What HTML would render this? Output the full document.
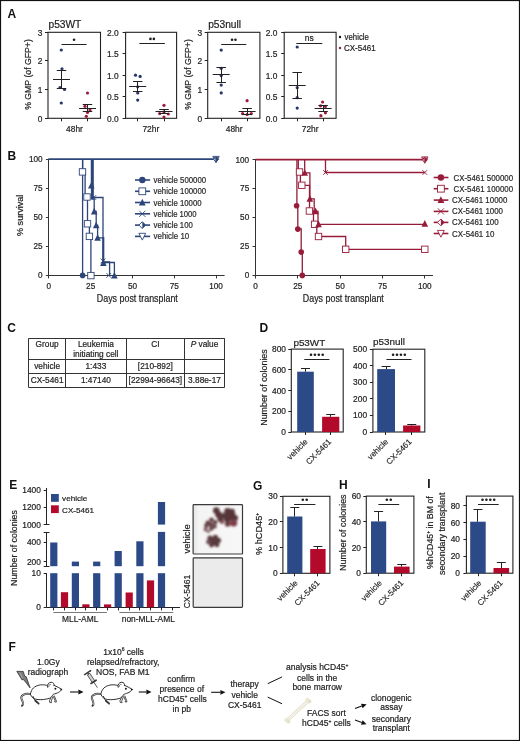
<!DOCTYPE html>
<html><head><meta charset="utf-8"><style>
html,body{margin:0;padding:0;background:#fff;}
svg{display:block;filter:blur(0.3px);font-family:"Liberation Sans", sans-serif;}
</style></head><body>
<svg width="520" height="741" viewBox="0 0 520 741">
<rect x="0" y="0" width="520" height="741" fill="#fff"/>
<text x="7.6" y="18.2" font-size="12.0" font-weight="bold" fill="#111">A</text>
<text x="7.5" y="160.0" font-size="12.0" font-weight="bold" fill="#111">B</text>
<text x="7.2" y="332.3" font-size="12.0" font-weight="bold" fill="#111">C</text>
<text x="259.6" y="331.6" font-size="12.0" font-weight="bold" fill="#111">D</text>
<text x="9.2" y="489.0" font-size="12.0" font-weight="bold" fill="#111">E</text>
<text x="8.4" y="651.0" font-size="12.0" font-weight="bold" fill="#111">F</text>
<text x="253.0" y="490.0" font-size="12.0" font-weight="bold" fill="#111">G</text>
<text x="339.0" y="489.0" font-size="12.0" font-weight="bold" fill="#111">H</text>
<text x="427.2" y="488.3" font-size="12.0" font-weight="bold" fill="#111">I</text>
<rect x="48.0" y="32.3" width="52.5" height="86.0" fill="none" stroke="#222" stroke-width="1.1"/>
<line x1="45.0" y1="118.5" x2="48.0" y2="118.5" stroke="#222" stroke-width="1.0"/>
<text x="42.5" y="121.6" font-size="8.4" text-anchor="end" fill="#1e1e1e" stroke="#1e1e1e" stroke-width="0.2" >0</text>
<line x1="45.0" y1="89.5" x2="48.0" y2="89.5" stroke="#222" stroke-width="1.0"/>
<text x="42.5" y="92.93333333333332" font-size="8.4" text-anchor="end" fill="#1e1e1e" stroke="#1e1e1e" stroke-width="0.2" >1</text>
<line x1="45.0" y1="60.5" x2="48.0" y2="60.5" stroke="#222" stroke-width="1.0"/>
<text x="42.5" y="64.26666666666667" font-size="8.4" text-anchor="end" fill="#1e1e1e" stroke="#1e1e1e" stroke-width="0.2" >2</text>
<line x1="45.0" y1="32.5" x2="48.0" y2="32.5" stroke="#222" stroke-width="1.0"/>
<text x="42.5" y="35.599999999999994" font-size="8.4" text-anchor="end" fill="#1e1e1e" stroke="#1e1e1e" stroke-width="0.2" >3</text>
<line x1="61.5" y1="118.3" x2="61.5" y2="121.3" stroke="#222" stroke-width="1.0"/>
<line x1="87.5" y1="118.3" x2="87.5" y2="121.3" stroke="#222" stroke-width="1.0"/>
<text x="74.5" y="131.8" font-size="8.4" text-anchor="middle" fill="#1e1e1e" stroke="#1e1e1e" stroke-width="0.2" >48hr</text>
<circle cx="61.3" cy="50.0" r="1.6" fill="#283668"/>
<circle cx="62.0" cy="68.8" r="1.6" fill="#283668"/>
<circle cx="60.0" cy="87.5" r="1.6" fill="#283668"/>
<circle cx="64.5" cy="89.5" r="1.6" fill="#283668"/>
<circle cx="61.3" cy="103.0" r="1.6" fill="#283668"/>
<circle cx="87.5" cy="93.0" r="1.6" fill="#9c1b3b"/>
<circle cx="85.0" cy="106.3" r="1.6" fill="#9c1b3b"/>
<circle cx="90.0" cy="110.0" r="1.6" fill="#9c1b3b"/>
<circle cx="87.5" cy="112.5" r="1.6" fill="#9c1b3b"/>
<circle cx="86.3" cy="116.3" r="1.6" fill="#9c1b3b"/>
<line x1="53.0" y1="79.5" x2="70.0" y2="79.5" stroke="#222" stroke-width="1.0"/>
<line x1="56.75" y1="70.5" x2="66.25" y2="70.5" stroke="#222" stroke-width="1.0"/>
<line x1="56.75" y1="88.5" x2="66.25" y2="88.5" stroke="#222" stroke-width="1.0"/>
<line x1="61.5" y1="70.4" x2="61.5" y2="88.5" stroke="#222" stroke-width="1.0"/>
<line x1="79.0" y1="108.5" x2="96.0" y2="108.5" stroke="#222" stroke-width="1.0"/>
<line x1="82.75" y1="104.5" x2="92.25" y2="104.5" stroke="#222" stroke-width="1.0"/>
<line x1="82.75" y1="111.5" x2="92.25" y2="111.5" stroke="#222" stroke-width="1.0"/>
<line x1="87.5" y1="104.6" x2="87.5" y2="111.9" stroke="#222" stroke-width="1.0"/>
<line x1="61.5" y1="44.5" x2="86.6" y2="44.5" stroke="#222" stroke-width="1.0"/>
<circle cx="74.05" cy="39.8" r="1.3" fill="#1e1e1e"/>
<text x="48.5" y="28.0" font-size="10.2" text-anchor="start" fill="#1e1e1e" stroke="#1e1e1e" stroke-width="0.2" >p53WT</text>
<text x="31.2" y="74.5" font-size="8.7" text-anchor="middle" fill="#1e1e1e" stroke="#1e1e1e" stroke-width="0.2" transform="rotate(-90 31.2 74.5)" >% GMP (of GFP+)</text>
<rect x="125.6" y="32.3" width="51.0" height="86.0" fill="none" stroke="#222" stroke-width="1.1"/>
<line x1="122.6" y1="118.5" x2="125.6" y2="118.5" stroke="#222" stroke-width="1.0"/>
<text x="118.69999999999999" y="121.6" font-size="8.4" text-anchor="end" fill="#1e1e1e" stroke="#1e1e1e" stroke-width="0.2" >0.0</text>
<line x1="122.6" y1="96.5" x2="125.6" y2="96.5" stroke="#222" stroke-width="1.0"/>
<text x="118.69999999999999" y="100.1" font-size="8.4" text-anchor="end" fill="#1e1e1e" stroke="#1e1e1e" stroke-width="0.2" >0.5</text>
<line x1="122.6" y1="75.5" x2="125.6" y2="75.5" stroke="#222" stroke-width="1.0"/>
<text x="118.69999999999999" y="78.6" font-size="8.4" text-anchor="end" fill="#1e1e1e" stroke="#1e1e1e" stroke-width="0.2" >1.0</text>
<line x1="122.6" y1="53.5" x2="125.6" y2="53.5" stroke="#222" stroke-width="1.0"/>
<text x="118.69999999999999" y="57.099999999999994" font-size="8.4" text-anchor="end" fill="#1e1e1e" stroke="#1e1e1e" stroke-width="0.2" >1.5</text>
<line x1="122.6" y1="32.5" x2="125.6" y2="32.5" stroke="#222" stroke-width="1.0"/>
<text x="118.69999999999999" y="35.599999999999994" font-size="8.4" text-anchor="end" fill="#1e1e1e" stroke="#1e1e1e" stroke-width="0.2" >2.0</text>
<line x1="137.5" y1="118.3" x2="137.5" y2="121.3" stroke="#222" stroke-width="1.0"/>
<line x1="164.5" y1="118.3" x2="164.5" y2="121.3" stroke="#222" stroke-width="1.0"/>
<text x="150.85" y="131.8" font-size="8.4" text-anchor="middle" fill="#1e1e1e" stroke="#1e1e1e" stroke-width="0.2" >72hr</text>
<circle cx="135.5" cy="75.2" r="1.6" fill="#283668"/>
<circle cx="140.1" cy="76.4" r="1.6" fill="#283668"/>
<circle cx="137.7" cy="86.8" r="1.6" fill="#283668"/>
<circle cx="137.7" cy="92.9" r="1.6" fill="#283668"/>
<circle cx="137.7" cy="100.1" r="1.6" fill="#283668"/>
<circle cx="164" cy="105.3" r="1.6" fill="#9c1b3b"/>
<circle cx="159.7" cy="113.6" r="1.6" fill="#9c1b3b"/>
<circle cx="164" cy="111.9" r="1.6" fill="#9c1b3b"/>
<circle cx="168.3" cy="114" r="1.6" fill="#9c1b3b"/>
<circle cx="164" cy="117" r="1.6" fill="#9c1b3b"/>
<line x1="129.2" y1="86.5" x2="146.2" y2="86.5" stroke="#222" stroke-width="1.0"/>
<line x1="132.95" y1="81.5" x2="142.45" y2="81.5" stroke="#222" stroke-width="1.0"/>
<line x1="132.95" y1="91.5" x2="142.45" y2="91.5" stroke="#222" stroke-width="1.0"/>
<line x1="137.5" y1="81.6" x2="137.5" y2="91.5" stroke="#222" stroke-width="1.0"/>
<line x1="155.5" y1="111.5" x2="172.5" y2="111.5" stroke="#222" stroke-width="1.0"/>
<line x1="159.25" y1="109.5" x2="168.75" y2="109.5" stroke="#222" stroke-width="1.0"/>
<line x1="159.25" y1="113.5" x2="168.75" y2="113.5" stroke="#222" stroke-width="1.0"/>
<line x1="164.5" y1="109.7" x2="164.5" y2="113.6" stroke="#222" stroke-width="1.0"/>
<line x1="139.4" y1="43.5" x2="164.9" y2="43.5" stroke="#222" stroke-width="1.0"/>
<circle cx="150.45000000000002" cy="38.9" r="1.3" fill="#1e1e1e"/>
<circle cx="153.85" cy="38.9" r="1.3" fill="#1e1e1e"/>
<rect x="207.7" y="32.3" width="52.19999999999999" height="86.0" fill="none" stroke="#222" stroke-width="1.1"/>
<line x1="204.7" y1="118.5" x2="207.7" y2="118.5" stroke="#222" stroke-width="1.0"/>
<text x="202.2" y="121.6" font-size="8.4" text-anchor="end" fill="#1e1e1e" stroke="#1e1e1e" stroke-width="0.2" >0</text>
<line x1="204.7" y1="89.5" x2="207.7" y2="89.5" stroke="#222" stroke-width="1.0"/>
<text x="202.2" y="92.93333333333332" font-size="8.4" text-anchor="end" fill="#1e1e1e" stroke="#1e1e1e" stroke-width="0.2" >1</text>
<line x1="204.7" y1="60.5" x2="207.7" y2="60.5" stroke="#222" stroke-width="1.0"/>
<text x="202.2" y="64.26666666666667" font-size="8.4" text-anchor="end" fill="#1e1e1e" stroke="#1e1e1e" stroke-width="0.2" >2</text>
<line x1="204.7" y1="32.5" x2="207.7" y2="32.5" stroke="#222" stroke-width="1.0"/>
<text x="202.2" y="35.599999999999994" font-size="8.4" text-anchor="end" fill="#1e1e1e" stroke="#1e1e1e" stroke-width="0.2" >3</text>
<line x1="221.5" y1="118.3" x2="221.5" y2="121.3" stroke="#222" stroke-width="1.0"/>
<line x1="247.5" y1="118.3" x2="247.5" y2="121.3" stroke="#222" stroke-width="1.0"/>
<text x="234.14999999999998" y="131.8" font-size="8.4" text-anchor="middle" fill="#1e1e1e" stroke="#1e1e1e" stroke-width="0.2" >48hr</text>
<circle cx="221.2" cy="50.1" r="1.6" fill="#283668"/>
<circle cx="221.2" cy="68.3" r="1.6" fill="#283668"/>
<circle cx="221.2" cy="75.6" r="1.6" fill="#283668"/>
<circle cx="221.2" cy="85.1" r="1.6" fill="#283668"/>
<circle cx="221.2" cy="92.9" r="1.6" fill="#283668"/>
<circle cx="247.1" cy="100.7" r="1.6" fill="#9c1b3b"/>
<circle cx="242.6" cy="113.6" r="1.6" fill="#9c1b3b"/>
<circle cx="247.1" cy="114.5" r="1.6" fill="#9c1b3b"/>
<circle cx="251.3" cy="113.6" r="1.6" fill="#9c1b3b"/>
<line x1="212.7" y1="74.5" x2="229.7" y2="74.5" stroke="#222" stroke-width="1.0"/>
<line x1="216.45" y1="67.5" x2="225.95" y2="67.5" stroke="#222" stroke-width="1.0"/>
<line x1="216.45" y1="82.5" x2="225.95" y2="82.5" stroke="#222" stroke-width="1.0"/>
<line x1="221.5" y1="67.3" x2="221.5" y2="82.1" stroke="#222" stroke-width="1.0"/>
<line x1="238.6" y1="111.5" x2="255.6" y2="111.5" stroke="#222" stroke-width="1.0"/>
<line x1="242.35" y1="108.5" x2="251.85" y2="108.5" stroke="#222" stroke-width="1.0"/>
<line x1="242.35" y1="114.5" x2="251.85" y2="114.5" stroke="#222" stroke-width="1.0"/>
<line x1="247.5" y1="108.1" x2="247.5" y2="114.0" stroke="#222" stroke-width="1.0"/>
<line x1="221.2" y1="44.5" x2="246.3" y2="44.5" stroke="#222" stroke-width="1.0"/>
<circle cx="232.05" cy="39.8" r="1.3" fill="#1e1e1e"/>
<circle cx="235.45" cy="39.8" r="1.3" fill="#1e1e1e"/>
<text x="208.2" y="28.0" font-size="10.2" text-anchor="start" fill="#1e1e1e" stroke="#1e1e1e" stroke-width="0.2" >p53null</text>
<text x="191.0" y="74.5" font-size="8.7" text-anchor="middle" fill="#1e1e1e" stroke="#1e1e1e" stroke-width="0.2" transform="rotate(-90 191.0 74.5)" >% GMP (of GFP+)</text>
<rect x="284.2" y="32.3" width="51.900000000000034" height="86.0" fill="none" stroke="#222" stroke-width="1.1"/>
<line x1="281.2" y1="118.5" x2="284.2" y2="118.5" stroke="#222" stroke-width="1.0"/>
<text x="277.3" y="121.6" font-size="8.4" text-anchor="end" fill="#1e1e1e" stroke="#1e1e1e" stroke-width="0.2" >0.0</text>
<line x1="281.2" y1="96.5" x2="284.2" y2="96.5" stroke="#222" stroke-width="1.0"/>
<text x="277.3" y="100.1" font-size="8.4" text-anchor="end" fill="#1e1e1e" stroke="#1e1e1e" stroke-width="0.2" >0.5</text>
<line x1="281.2" y1="75.5" x2="284.2" y2="75.5" stroke="#222" stroke-width="1.0"/>
<text x="277.3" y="78.6" font-size="8.4" text-anchor="end" fill="#1e1e1e" stroke="#1e1e1e" stroke-width="0.2" >1.0</text>
<line x1="281.2" y1="53.5" x2="284.2" y2="53.5" stroke="#222" stroke-width="1.0"/>
<text x="277.3" y="57.099999999999994" font-size="8.4" text-anchor="end" fill="#1e1e1e" stroke="#1e1e1e" stroke-width="0.2" >1.5</text>
<line x1="281.2" y1="32.5" x2="284.2" y2="32.5" stroke="#222" stroke-width="1.0"/>
<text x="277.3" y="35.599999999999994" font-size="8.4" text-anchor="end" fill="#1e1e1e" stroke="#1e1e1e" stroke-width="0.2" >2.0</text>
<line x1="297.5" y1="118.3" x2="297.5" y2="121.3" stroke="#222" stroke-width="1.0"/>
<line x1="323.5" y1="118.3" x2="323.5" y2="121.3" stroke="#222" stroke-width="1.0"/>
<text x="310.15" y="131.8" font-size="8.4" text-anchor="middle" fill="#1e1e1e" stroke="#1e1e1e" stroke-width="0.2" >72hr</text>
<circle cx="297.2" cy="47.0" r="1.6" fill="#283668"/>
<circle cx="297.2" cy="87.7" r="1.6" fill="#283668"/>
<circle cx="297.2" cy="97.7" r="1.6" fill="#283668"/>
<circle cx="297.2" cy="108.1" r="1.6" fill="#283668"/>
<circle cx="322.6" cy="102" r="1.6" fill="#9c1b3b"/>
<circle cx="320.6" cy="105.8" r="1.6" fill="#9c1b3b"/>
<circle cx="325.4" cy="106.4" r="1.6" fill="#9c1b3b"/>
<circle cx="325.4" cy="112.8" r="1.6" fill="#9c1b3b"/>
<circle cx="320.9" cy="115.7" r="1.6" fill="#9c1b3b"/>
<line x1="288.7" y1="85.5" x2="305.7" y2="85.5" stroke="#222" stroke-width="1.0"/>
<line x1="292.45" y1="72.5" x2="301.95" y2="72.5" stroke="#222" stroke-width="1.0"/>
<line x1="292.45" y1="98.5" x2="301.95" y2="98.5" stroke="#222" stroke-width="1.0"/>
<line x1="297.5" y1="72.5" x2="297.5" y2="98.6" stroke="#222" stroke-width="1.0"/>
<line x1="314.6" y1="108.5" x2="331.6" y2="108.5" stroke="#222" stroke-width="1.0"/>
<line x1="318.35" y1="105.5" x2="327.85" y2="105.5" stroke="#222" stroke-width="1.0"/>
<line x1="318.35" y1="111.5" x2="327.85" y2="111.5" stroke="#222" stroke-width="1.0"/>
<line x1="323.5" y1="105.8" x2="323.5" y2="111.4" stroke="#222" stroke-width="1.0"/>
<line x1="296.3" y1="43.5" x2="322.3" y2="43.5" stroke="#222" stroke-width="1.0"/>
<text x="309.3" y="40.8" font-size="8.4" text-anchor="middle" fill="#1e1e1e" stroke="#1e1e1e" stroke-width="0.2" >ns</text>
<circle cx="340.0" cy="37.0" r="1.2" fill="#111"/>
<text x="344.6" y="40.2" font-size="8.3" text-anchor="start" fill="#1e1e1e" stroke="#1e1e1e" stroke-width="0.2" textLength="24.3" lengthAdjust="spacingAndGlyphs">vehicle</text>
<circle cx="340.0" cy="48.0" r="1.2" fill="#9c1b3b"/>
<text x="344.0" y="51.2" font-size="8.3" text-anchor="start" fill="#1e1e1e" stroke="#1e1e1e" stroke-width="0.2" textLength="31.6" lengthAdjust="spacingAndGlyphs">CX-5461</text>
<line x1="48.5" y1="158.6" x2="48.5" y2="275.4" stroke="#333" stroke-width="1.0"/>
<line x1="48.9" y1="275.5" x2="224.6" y2="275.5" stroke="#333" stroke-width="1.0"/>
<line x1="45.9" y1="275.5" x2="48.9" y2="275.5" stroke="#333" stroke-width="1.0"/>
<text x="42.6" y="278.29999999999995" font-size="8.2" text-anchor="end" fill="#1e1e1e" stroke="#1e1e1e" stroke-width="0.2" >0</text>
<line x1="48.5" y1="275.4" x2="48.5" y2="278.4" stroke="#333" stroke-width="1.0"/>
<text x="48.9" y="288.8" font-size="8.2" text-anchor="middle" fill="#1e1e1e" stroke="#1e1e1e" stroke-width="0.2" >0</text>
<line x1="45.9" y1="246.5" x2="48.9" y2="246.5" stroke="#333" stroke-width="1.0"/>
<text x="42.6" y="249.225" font-size="8.2" text-anchor="end" fill="#1e1e1e" stroke="#1e1e1e" stroke-width="0.2" >25</text>
<line x1="90.5" y1="275.4" x2="90.5" y2="278.4" stroke="#333" stroke-width="1.0"/>
<text x="90.675" y="288.8" font-size="8.2" text-anchor="middle" fill="#1e1e1e" stroke="#1e1e1e" stroke-width="0.2" >25</text>
<line x1="45.9" y1="217.5" x2="48.9" y2="217.5" stroke="#333" stroke-width="1.0"/>
<text x="42.6" y="220.15" font-size="8.2" text-anchor="end" fill="#1e1e1e" stroke="#1e1e1e" stroke-width="0.2" >50</text>
<line x1="132.5" y1="275.4" x2="132.5" y2="278.4" stroke="#333" stroke-width="1.0"/>
<text x="132.45" y="288.8" font-size="8.2" text-anchor="middle" fill="#1e1e1e" stroke="#1e1e1e" stroke-width="0.2" >50</text>
<line x1="45.9" y1="188.5" x2="48.9" y2="188.5" stroke="#333" stroke-width="1.0"/>
<text x="42.6" y="191.07500000000002" font-size="8.2" text-anchor="end" fill="#1e1e1e" stroke="#1e1e1e" stroke-width="0.2" >75</text>
<line x1="174.5" y1="275.4" x2="174.5" y2="278.4" stroke="#333" stroke-width="1.0"/>
<text x="174.225" y="288.8" font-size="8.2" text-anchor="middle" fill="#1e1e1e" stroke="#1e1e1e" stroke-width="0.2" >75</text>
<line x1="45.9" y1="159.5" x2="48.9" y2="159.5" stroke="#333" stroke-width="1.0"/>
<text x="42.6" y="162.0" font-size="8.2" text-anchor="end" fill="#1e1e1e" stroke="#1e1e1e" stroke-width="0.2" >100</text>
<line x1="216.5" y1="275.4" x2="216.5" y2="278.4" stroke="#333" stroke-width="1.0"/>
<text x="216.0" y="288.8" font-size="8.2" text-anchor="middle" fill="#1e1e1e" stroke="#1e1e1e" stroke-width="0.2" >100</text>
<text x="137.3" y="302.3" font-size="10.2" text-anchor="middle" fill="#1e1e1e" stroke="#1e1e1e" stroke-width="0.2" textLength="81" lengthAdjust="spacingAndGlyphs">Days post transplant</text>
<text x="23.3" y="215.3" font-size="8.9" text-anchor="middle" fill="#1e1e1e" stroke="#1e1e1e" stroke-width="0.2" transform="rotate(-90 23.3 215.3)" textLength="41.3" lengthAdjust="spacingAndGlyphs">% survival</text>
<path d="M48.9,159.1 H216.0" fill="none" stroke="#2d4679" stroke-width="1.7"/>
<path d="M82.6,159.1 V275.4" fill="none" stroke="#2d4679" stroke-width="1.3"/>
<path d="M82.6,159.1 V171.9 H85.1 V197 H87.5 V224 H89.4 V236.4 H90.9 V275.4" fill="none" stroke="#2d4679" stroke-width="1.3"/>
<path d="M91.5,159.1 V185.6 H92.5 V199 H94.2 V211.5 H96.2 V225.4 H97.6 V237.9 H103.4 V262.5 H114.4 V275.4" fill="none" stroke="#2d4679" stroke-width="1.3"/>
<path d="M93.0,159.1 V197.5 H103.0 V262 H109.6 V275.4" fill="none" stroke="#2d4679" stroke-width="1.3"/>
<path d="M92.2,159.1 V199" fill="none" stroke="#2d4679" stroke-width="2.6"/>
<path d="M103.4,237 V262.5" fill="none" stroke="#2d4679" stroke-width="1.8"/>
<circle cx="82.6" cy="275.4" r="2.8" fill="#2d4679"/>
<rect x="79.3" y="168.70000000000002" width="6.4" height="6.4" fill="white" stroke="#2d4679" stroke-width="0.9"/>
<rect x="83.8" y="193.8" width="6.4" height="6.4" fill="white" stroke="#2d4679" stroke-width="0.9"/>
<rect x="84.3" y="220.60000000000002" width="6.4" height="6.4" fill="white" stroke="#2d4679" stroke-width="0.9"/>
<rect x="86.2" y="233.20000000000002" width="6.4" height="6.4" fill="white" stroke="#2d4679" stroke-width="0.9"/>
<rect x="87.7" y="272.40000000000003" width="6.4" height="6.4" fill="white" stroke="#2d4679" stroke-width="0.9"/>
<path d="M91.3,181.89999999999998 L94.6,188.5 L88.0,188.5 Z" fill="#2d4679"/>
<path d="M94.2,207.79999999999998 L97.5,214.4 L90.9,214.4 Z" fill="#2d4679"/>
<path d="M96.2,221.7 L99.5,228.3 L92.9,228.3 Z" fill="#2d4679"/>
<path d="M97.6,234.2 L100.89999999999999,240.8 L94.3,240.8 Z" fill="#2d4679"/>
<path d="M103.4,259.3 L106.7,265.90000000000003 L100.10000000000001,265.90000000000003 Z" fill="#2d4679"/>
<path d="M114.4,271.90000000000003 L117.7,278.50000000000006 L111.10000000000001,278.50000000000006 Z" fill="#2d4679"/>
<path d="M91.41,195.16 L96.09,199.84 M91.41,199.84 L96.09,195.16" stroke="#2d4679" stroke-width="0.9"/>
<path d="M100.66,258.66 L105.34,263.34 M100.66,263.34 L105.34,258.66" stroke="#2d4679" stroke-width="0.9"/>
<path d="M106.41,273.06 L111.09,277.73999999999995 M106.41,277.73999999999995 L111.09,273.06" stroke="#2d4679" stroke-width="0.9"/>
<path d="M212.8,156.40000000000003 L219.2,156.40000000000003 L216.0,162.8 Z" fill="white" stroke="#2d4679" stroke-width="0.9"/>
<path d="M216.0,156.70000000000002 L218.6,159.3 L216.0,161.9 L213.4,159.3 Z" fill="white" stroke="#2d4679" stroke-width="0.9"/><path d="M216.0,156.70000000000002 L218.6,159.3 L216.0,161.9 Z" fill="#2d4679"/>
<path d="M213.4,157.0 L218.6,157.0 L216.0,162.4 Z" fill="#2d4679" fill-opacity="0.7"/>
<line x1="255.5" y1="159.1" x2="255.5" y2="275.5" stroke="#333" stroke-width="1.0"/>
<line x1="255.5" y1="275.5" x2="433.0" y2="275.5" stroke="#333" stroke-width="1.0"/>
<line x1="252.5" y1="275.5" x2="255.5" y2="275.5" stroke="#333" stroke-width="1.0"/>
<text x="249.2" y="278.4" font-size="8.2" text-anchor="end" fill="#1e1e1e" stroke="#1e1e1e" stroke-width="0.2" >0</text>
<line x1="255.5" y1="275.5" x2="255.5" y2="278.5" stroke="#333" stroke-width="1.0"/>
<text x="255.5" y="288.8" font-size="8.2" text-anchor="middle" fill="#1e1e1e" stroke="#1e1e1e" stroke-width="0.2" >0</text>
<line x1="252.5" y1="246.5" x2="255.5" y2="246.5" stroke="#333" stroke-width="1.0"/>
<text x="249.2" y="249.425" font-size="8.2" text-anchor="end" fill="#1e1e1e" stroke="#1e1e1e" stroke-width="0.2" >25</text>
<line x1="297.5" y1="275.5" x2="297.5" y2="278.5" stroke="#333" stroke-width="1.0"/>
<text x="297.825" y="288.8" font-size="8.2" text-anchor="middle" fill="#1e1e1e" stroke="#1e1e1e" stroke-width="0.2" >25</text>
<line x1="252.5" y1="217.5" x2="255.5" y2="217.5" stroke="#333" stroke-width="1.0"/>
<text x="249.2" y="220.45000000000002" font-size="8.2" text-anchor="end" fill="#1e1e1e" stroke="#1e1e1e" stroke-width="0.2" >50</text>
<line x1="340.5" y1="275.5" x2="340.5" y2="278.5" stroke="#333" stroke-width="1.0"/>
<text x="340.15" y="288.8" font-size="8.2" text-anchor="middle" fill="#1e1e1e" stroke="#1e1e1e" stroke-width="0.2" >50</text>
<line x1="252.5" y1="188.5" x2="255.5" y2="188.5" stroke="#333" stroke-width="1.0"/>
<text x="249.2" y="191.475" font-size="8.2" text-anchor="end" fill="#1e1e1e" stroke="#1e1e1e" stroke-width="0.2" >75</text>
<line x1="382.5" y1="275.5" x2="382.5" y2="278.5" stroke="#333" stroke-width="1.0"/>
<text x="382.475" y="288.8" font-size="8.2" text-anchor="middle" fill="#1e1e1e" stroke="#1e1e1e" stroke-width="0.2" >75</text>
<line x1="252.5" y1="159.5" x2="255.5" y2="159.5" stroke="#333" stroke-width="1.0"/>
<text x="249.2" y="162.5" font-size="8.2" text-anchor="end" fill="#1e1e1e" stroke="#1e1e1e" stroke-width="0.2" >100</text>
<line x1="424.5" y1="275.5" x2="424.5" y2="278.5" stroke="#333" stroke-width="1.0"/>
<text x="424.8" y="288.8" font-size="8.2" text-anchor="middle" fill="#1e1e1e" stroke="#1e1e1e" stroke-width="0.2" >100</text>
<text x="343.3" y="302.3" font-size="10.2" text-anchor="middle" fill="#1e1e1e" stroke="#1e1e1e" stroke-width="0.2" textLength="81" lengthAdjust="spacingAndGlyphs">Days post transplant</text>
<path d="M255.5,159.6 H424.8" fill="none" stroke="#961c3a" stroke-width="1.7"/>
<path d="M296.9,159.6 V206 H297.8 V229 H301.2 V252 H302.3 V275.5" fill="none" stroke="#961c3a" stroke-width="1.3"/>
<path d="M298.3,159.6 V172 H300.4 V185.3 H309.5 V211 H313.5 V224.3 H316.8 V236.5 H345.7 V249.3 H424.8" fill="none" stroke="#961c3a" stroke-width="1.3"/>
<path d="M304.7,159.6 V172.9 H309.9 V198.8 H314.2 V211.3 H318.0 V224.3 H424.8" fill="none" stroke="#961c3a" stroke-width="1.3"/>
<path d="M325.5,159.6 V172.5 H424.8" fill="none" stroke="#961c3a" stroke-width="1.3"/>
<circle cx="296.6" cy="205.7" r="2.8" fill="#961c3a"/>
<circle cx="297.8" cy="229.1" r="2.8" fill="#961c3a"/>
<circle cx="301.2" cy="252.1" r="2.8" fill="#961c3a"/>
<circle cx="302.3" cy="275.4" r="2.8" fill="#961c3a"/>
<rect x="296.3" y="168.8" width="6.4" height="6.4" fill="white" stroke="#961c3a" stroke-width="0.9"/>
<rect x="298.6" y="182.10000000000002" width="6.4" height="6.4" fill="white" stroke="#961c3a" stroke-width="0.9"/>
<rect x="306.2" y="207.8" width="6.4" height="6.4" fill="white" stroke="#961c3a" stroke-width="0.9"/>
<rect x="311.40000000000003" y="221.10000000000002" width="6.4" height="6.4" fill="white" stroke="#961c3a" stroke-width="0.9"/>
<rect x="315.3" y="233.3" width="6.4" height="6.4" fill="white" stroke="#961c3a" stroke-width="0.9"/>
<rect x="342.5" y="246.10000000000002" width="6.4" height="6.4" fill="white" stroke="#961c3a" stroke-width="0.9"/>
<rect x="421.6" y="246.10000000000002" width="6.4" height="6.4" fill="white" stroke="#961c3a" stroke-width="0.9"/>
<path d="M304.7,169.2 L308.0,175.8 L301.4,175.8 Z" fill="#961c3a"/>
<path d="M309.9,195.1 L313.2,201.70000000000002 L306.59999999999997,201.70000000000002 Z" fill="#961c3a"/>
<path d="M315.6,207.6 L318.90000000000003,214.20000000000002 L312.3,214.20000000000002 Z" fill="#961c3a"/>
<path d="M318.5,220.6 L321.8,227.20000000000002 L315.2,227.20000000000002 Z" fill="#961c3a"/>
<path d="M424.8,220.1 L428.1,226.70000000000002 L421.5,226.70000000000002 Z" fill="#961c3a"/>
<path d="M323.16,170.16 L327.84,174.84 M323.16,174.84 L327.84,170.16" stroke="#961c3a" stroke-width="0.9"/>
<path d="M422.46000000000004,170.16 L427.14,174.84 M422.46000000000004,174.84 L427.14,170.16" stroke="#961c3a" stroke-width="0.9"/>
<path d="M421.6,156.90000000000003 L428.0,156.90000000000003 L424.8,163.3 Z" fill="white" stroke="#961c3a" stroke-width="0.9"/>
<path d="M424.8,157.20000000000002 L427.40000000000003,159.8 L424.8,162.4 L422.2,159.8 Z" fill="white" stroke="#961c3a" stroke-width="0.9"/><path d="M424.8,157.20000000000002 L427.40000000000003,159.8 L424.8,162.4 Z" fill="#961c3a"/>
<path d="M422.2,157.5 L427.4,157.5 L424.8,162.9 Z" fill="#961c3a" fill-opacity="0.7"/>
<line x1="135.0" y1="180.0" x2="150.1" y2="180.0" stroke="#2d4679" stroke-width="1.6"/>
<circle cx="142.3" cy="180.0" r="3.2" fill="#2d4679"/>
<text x="153.6" y="183.0" font-size="8.3" text-anchor="start" fill="#2a2a2a" stroke="#2a2a2a" stroke-width="0.2" textLength="52.5" lengthAdjust="spacingAndGlyphs">vehicle 500000</text>
<line x1="135.0" y1="191.3" x2="150.1" y2="191.3" stroke="#2d4679" stroke-width="1.6"/>
<rect x="138.9" y="187.9" width="6.8" height="6.8" fill="white" stroke="#2d4679" stroke-width="0.9"/>
<text x="153.6" y="194.3" font-size="8.3" text-anchor="start" fill="#2a2a2a" stroke="#2a2a2a" stroke-width="0.2" textLength="52.5" lengthAdjust="spacingAndGlyphs">vehicle 100000</text>
<line x1="135.0" y1="202.5" x2="150.1" y2="202.5" stroke="#2d4679" stroke-width="1.6"/>
<path d="M142.3,198.7 L145.70000000000002,205.5 L138.9,205.5 Z" fill="#2d4679"/>
<text x="153.6" y="205.5" font-size="8.3" text-anchor="start" fill="#2a2a2a" stroke="#2a2a2a" stroke-width="0.2" textLength="48" lengthAdjust="spacingAndGlyphs">vehicle 10000</text>
<line x1="135.0" y1="213.8" x2="150.1" y2="213.8" stroke="#2d4679" stroke-width="1.6"/>
<path d="M139.24,210.74 L145.36,216.86 M139.24,216.86 L145.36,210.74" stroke="#2d4679" stroke-width="0.9"/>
<text x="153.6" y="216.8" font-size="8.3" text-anchor="start" fill="#2a2a2a" stroke="#2a2a2a" stroke-width="0.2" textLength="43" lengthAdjust="spacingAndGlyphs">vehicle 1000</text>
<line x1="135.0" y1="225.1" x2="150.1" y2="225.1" stroke="#2d4679" stroke-width="1.6"/>
<path d="M142.3,221.7 L145.70000000000002,225.1 L142.3,228.5 L138.9,225.1 Z" fill="white" stroke="#2d4679" stroke-width="0.9"/><path d="M142.3,221.7 L145.70000000000002,225.1 L142.3,228.5 Z" fill="#2d4679"/>
<text x="153.6" y="228.1" font-size="8.3" text-anchor="start" fill="#2a2a2a" stroke="#2a2a2a" stroke-width="0.2" textLength="39.2" lengthAdjust="spacingAndGlyphs">vehicle 100</text>
<line x1="135.0" y1="236.4" x2="150.1" y2="236.4" stroke="#2d4679" stroke-width="1.6"/>
<path d="M138.9,233.3 L145.70000000000002,233.3 L142.3,240.10000000000002 Z" fill="white" stroke="#2d4679" stroke-width="0.9"/>
<text x="153.6" y="239.4" font-size="8.3" text-anchor="start" fill="#2a2a2a" stroke="#2a2a2a" stroke-width="0.2" textLength="35.6" lengthAdjust="spacingAndGlyphs">vehicle 10</text>
<line x1="433.7" y1="177.5" x2="448.4" y2="177.5" stroke="#961c3a" stroke-width="1.6"/>
<circle cx="440.9" cy="177.5" r="3.2" fill="#961c3a"/>
<text x="453.5" y="180.5" font-size="8.3" text-anchor="start" fill="#2a2a2a" stroke="#2a2a2a" stroke-width="0.2" textLength="59.6" lengthAdjust="spacingAndGlyphs">CX-5461 500000</text>
<line x1="433.7" y1="188.7" x2="448.4" y2="188.7" stroke="#961c3a" stroke-width="1.6"/>
<rect x="437.5" y="185.29999999999998" width="6.8" height="6.8" fill="white" stroke="#961c3a" stroke-width="0.9"/>
<text x="453.5" y="191.7" font-size="8.3" text-anchor="start" fill="#2a2a2a" stroke="#2a2a2a" stroke-width="0.2" textLength="59.6" lengthAdjust="spacingAndGlyphs">CX-5461 100000</text>
<line x1="433.7" y1="200.1" x2="448.4" y2="200.1" stroke="#961c3a" stroke-width="1.6"/>
<path d="M440.9,196.29999999999998 L444.29999999999995,203.1 L437.5,203.1 Z" fill="#961c3a"/>
<text x="452.0" y="203.1" font-size="8.3" text-anchor="start" fill="#2a2a2a" stroke="#2a2a2a" stroke-width="0.2" textLength="55.3" lengthAdjust="spacingAndGlyphs">CX-5461 10000</text>
<line x1="433.7" y1="211.4" x2="448.4" y2="211.4" stroke="#961c3a" stroke-width="1.6"/>
<path d="M437.84,208.34 L443.96,214.46 M437.84,214.46 L443.96,208.34" stroke="#961c3a" stroke-width="0.9"/>
<text x="452.0" y="214.4" font-size="8.3" text-anchor="start" fill="#2a2a2a" stroke="#2a2a2a" stroke-width="0.2" textLength="51" lengthAdjust="spacingAndGlyphs">CX-5461 1000</text>
<line x1="433.7" y1="222.4" x2="448.4" y2="222.4" stroke="#961c3a" stroke-width="1.6"/>
<path d="M440.9,219.0 L444.29999999999995,222.4 L440.9,225.8 L437.5,222.4 Z" fill="white" stroke="#961c3a" stroke-width="0.9"/><path d="M440.9,219.0 L444.29999999999995,222.4 L440.9,225.8 Z" fill="#961c3a"/>
<text x="452.0" y="225.4" font-size="8.3" text-anchor="start" fill="#2a2a2a" stroke="#2a2a2a" stroke-width="0.2" textLength="46.6" lengthAdjust="spacingAndGlyphs">CX-5461 100</text>
<line x1="433.7" y1="233.5" x2="448.4" y2="233.5" stroke="#961c3a" stroke-width="1.6"/>
<path d="M437.5,230.4 L444.29999999999995,230.4 L440.9,237.20000000000002 Z" fill="white" stroke="#961c3a" stroke-width="0.9"/>
<text x="452.0" y="236.5" font-size="8.3" text-anchor="start" fill="#2a2a2a" stroke="#2a2a2a" stroke-width="0.2" textLength="42.3" lengthAdjust="spacingAndGlyphs">CX-5461 10</text>
<line x1="28.5" y1="338.25" x2="28.5" y2="387.5" stroke="#333" stroke-width="1.0"/>
<line x1="65.5" y1="338.25" x2="65.5" y2="387.5" stroke="#333" stroke-width="1.0"/>
<line x1="126.5" y1="338.25" x2="126.5" y2="387.5" stroke="#333" stroke-width="1.0"/>
<line x1="184.5" y1="338.25" x2="184.5" y2="387.5" stroke="#333" stroke-width="1.0"/>
<line x1="224.5" y1="338.25" x2="224.5" y2="387.5" stroke="#333" stroke-width="1.0"/>
<line x1="28.75" y1="338.5" x2="224.5" y2="338.5" stroke="#333" stroke-width="1.0"/>
<line x1="28.75" y1="359.5" x2="224.5" y2="359.5" stroke="#333" stroke-width="1.0"/>
<line x1="28.75" y1="373.5" x2="224.5" y2="373.5" stroke="#333" stroke-width="1.0"/>
<line x1="28.75" y1="387.5" x2="224.5" y2="387.5" stroke="#333" stroke-width="1.0"/>
<text x="47.125" y="346.6" font-size="8.3" text-anchor="middle" fill="#1e1e1e" stroke="#1e1e1e" stroke-width="0.2" >Group</text>
<text x="95.875" y="346.6" font-size="8.3" text-anchor="middle" fill="#1e1e1e" stroke="#1e1e1e" stroke-width="0.2" >Leukemia</text>
<text x="95.875" y="357.4" font-size="8.3" text-anchor="middle" fill="#1e1e1e" stroke="#1e1e1e" stroke-width="0.2" >initiating cell</text>
<text x="155.375" y="346.6" font-size="8.3" text-anchor="middle" fill="#1e1e1e" stroke="#1e1e1e" stroke-width="0.2" >CI</text>
<text x="204.5" y="346.6" font-size="8.3" text-anchor="middle" fill="#1e1e1e" stroke="#1e1e1e" stroke-width="0.2" ><tspan font-style="italic">P</tspan> value</text>
<text x="47.125" y="369.4" font-size="8.3" text-anchor="middle" fill="#1e1e1e" stroke="#1e1e1e" stroke-width="0.2" >vehicle</text>
<text x="95.875" y="369.4" font-size="8.3" text-anchor="middle" fill="#1e1e1e" stroke="#1e1e1e" stroke-width="0.2" >1:433</text>
<text x="155.375" y="369.4" font-size="8.3" text-anchor="middle" fill="#1e1e1e" stroke="#1e1e1e" stroke-width="0.2" >[210-892]</text>
<text x="47.125" y="383.1" font-size="8.3" text-anchor="middle" fill="#1e1e1e" stroke="#1e1e1e" stroke-width="0.2" >CX-5461</text>
<text x="95.875" y="383.1" font-size="8.3" text-anchor="middle" fill="#1e1e1e" stroke="#1e1e1e" stroke-width="0.2" >1:47140</text>
<text x="155.375" y="383.1" font-size="8.3" text-anchor="middle" fill="#1e1e1e" stroke="#1e1e1e" stroke-width="0.2" >[22994-96643]</text>
<text x="204.5" y="383.1" font-size="8.3" text-anchor="middle" fill="#1e1e1e" stroke="#1e1e1e" stroke-width="0.2" >3.88e-17</text>
<rect x="291.3" y="349.1" width="51.89999999999998" height="82.89999999999998" fill="none" stroke="#222" stroke-width="1.1"/>
<line x1="288.3" y1="432.5" x2="291.3" y2="432.5" stroke="#222" stroke-width="1.0"/>
<text x="286.0" y="435.0" font-size="8.4" text-anchor="end" fill="#1e1e1e" stroke="#1e1e1e" stroke-width="0.2" >0</text>
<line x1="288.3" y1="411.5" x2="291.3" y2="411.5" stroke="#222" stroke-width="1.0"/>
<text x="286.0" y="414.275" font-size="8.4" text-anchor="end" fill="#1e1e1e" stroke="#1e1e1e" stroke-width="0.2" >200</text>
<line x1="288.3" y1="390.5" x2="291.3" y2="390.5" stroke="#222" stroke-width="1.0"/>
<text x="286.0" y="393.55" font-size="8.4" text-anchor="end" fill="#1e1e1e" stroke="#1e1e1e" stroke-width="0.2" >400</text>
<line x1="288.3" y1="369.5" x2="291.3" y2="369.5" stroke="#222" stroke-width="1.0"/>
<text x="286.0" y="372.82500000000005" font-size="8.4" text-anchor="end" fill="#1e1e1e" stroke="#1e1e1e" stroke-width="0.2" >600</text>
<line x1="288.3" y1="349.5" x2="291.3" y2="349.5" stroke="#222" stroke-width="1.0"/>
<text x="286.0" y="352.1" font-size="8.4" text-anchor="end" fill="#1e1e1e" stroke="#1e1e1e" stroke-width="0.2" >800</text>
<rect x="297.2" y="371.7" width="16.600000000000023" height="60.30000000000001" fill="#2b4a87" />
<line x1="305.5" y1="368.3" x2="305.5" y2="371.7" stroke="#222" stroke-width="1.0"/>
<line x1="301.0" y1="368.5" x2="310.0" y2="368.5" stroke="#222" stroke-width="1.0"/>
<rect x="322.1" y="416.8" width="17.19999999999999" height="15.199999999999989" fill="#b30a2c" />
<line x1="330.5" y1="414.7" x2="330.5" y2="416.8" stroke="#222" stroke-width="1.0"/>
<line x1="326.20000000000005" y1="414.5" x2="335.20000000000005" y2="414.5" stroke="#222" stroke-width="1.0"/>
<line x1="304.3" y1="359.5" x2="329.4" y2="359.5" stroke="#222" stroke-width="1.0"/>
<circle cx="311.0" cy="354.70000000000005" r="1.3" fill="#1e1e1e"/>
<circle cx="314.90000000000003" cy="354.70000000000005" r="1.3" fill="#1e1e1e"/>
<circle cx="318.8" cy="354.70000000000005" r="1.3" fill="#1e1e1e"/>
<circle cx="322.70000000000005" cy="354.70000000000005" r="1.3" fill="#1e1e1e"/>
<line x1="305.5" y1="432.0" x2="305.5" y2="435.0" stroke="#222" stroke-width="1.0"/>
<line x1="330.5" y1="432.0" x2="330.5" y2="435.0" stroke="#222" stroke-width="1.0"/>
<text x="308.2" y="442.4" font-size="8.1" text-anchor="end" fill="#1e1e1e" stroke="#1e1e1e" stroke-width="0.15" transform="rotate(-45 308.2 442.4)">vehicle</text>
<text x="331.8" y="442.4" font-size="8.1" text-anchor="end" fill="#1e1e1e" stroke="#1e1e1e" stroke-width="0.15" transform="rotate(-45 331.8 442.4)">CX-5461</text>
<text x="293.4" y="346.2" font-size="9.9" text-anchor="start" fill="#1e1e1e" stroke="#1e1e1e" stroke-width="0.2" >p53WT</text>
<text x="267.3" y="387.5" font-size="8.9" text-anchor="middle" fill="#1e1e1e" stroke="#1e1e1e" stroke-width="0.2" transform="rotate(-90 267.3 387.5)" >Number of colonies</text>
<rect x="372.9" y="349.2" width="51.900000000000034" height="82.80000000000001" fill="none" stroke="#222" stroke-width="1.1"/>
<line x1="369.9" y1="432.5" x2="372.9" y2="432.5" stroke="#222" stroke-width="1.0"/>
<text x="367.09999999999997" y="435.0" font-size="8.4" text-anchor="end" fill="#1e1e1e" stroke="#1e1e1e" stroke-width="0.2" >0</text>
<line x1="369.9" y1="415.5" x2="372.9" y2="415.5" stroke="#222" stroke-width="1.0"/>
<text x="367.09999999999997" y="418.44" font-size="8.4" text-anchor="end" fill="#1e1e1e" stroke="#1e1e1e" stroke-width="0.2" >100</text>
<line x1="369.9" y1="398.5" x2="372.9" y2="398.5" stroke="#222" stroke-width="1.0"/>
<text x="367.09999999999997" y="401.88" font-size="8.4" text-anchor="end" fill="#1e1e1e" stroke="#1e1e1e" stroke-width="0.2" >200</text>
<line x1="369.9" y1="382.5" x2="372.9" y2="382.5" stroke="#222" stroke-width="1.0"/>
<text x="367.09999999999997" y="385.32" font-size="8.4" text-anchor="end" fill="#1e1e1e" stroke="#1e1e1e" stroke-width="0.2" >300</text>
<line x1="369.9" y1="365.5" x2="372.9" y2="365.5" stroke="#222" stroke-width="1.0"/>
<text x="367.09999999999997" y="368.76" font-size="8.4" text-anchor="end" fill="#1e1e1e" stroke="#1e1e1e" stroke-width="0.2" >400</text>
<line x1="369.9" y1="349.5" x2="372.9" y2="349.5" stroke="#222" stroke-width="1.0"/>
<text x="367.09999999999997" y="352.2" font-size="8.4" text-anchor="end" fill="#1e1e1e" stroke="#1e1e1e" stroke-width="0.2" >500</text>
<rect x="377.2" y="369.1" width="17.80000000000001" height="62.89999999999998" fill="#2b4a87" />
<line x1="386.5" y1="366.5" x2="386.5" y2="369.1" stroke="#222" stroke-width="1.0"/>
<line x1="381.6" y1="366.5" x2="390.6" y2="366.5" stroke="#222" stroke-width="1.0"/>
<rect x="403.1" y="425.5" width="17.299999999999955" height="6.5" fill="#b30a2c" />
<line x1="411.5" y1="424.6" x2="411.5" y2="425.5" stroke="#222" stroke-width="1.0"/>
<line x1="407.25" y1="424.5" x2="416.25" y2="424.5" stroke="#222" stroke-width="1.0"/>
<line x1="386.4" y1="359.5" x2="411.5" y2="359.5" stroke="#222" stroke-width="1.0"/>
<circle cx="393.09999999999997" cy="354.70000000000005" r="1.3" fill="#1e1e1e"/>
<circle cx="397.0" cy="354.70000000000005" r="1.3" fill="#1e1e1e"/>
<circle cx="400.9" cy="354.70000000000005" r="1.3" fill="#1e1e1e"/>
<circle cx="404.8" cy="354.70000000000005" r="1.3" fill="#1e1e1e"/>
<line x1="385.5" y1="432.0" x2="385.5" y2="435.0" stroke="#222" stroke-width="1.0"/>
<line x1="411.5" y1="432.0" x2="411.5" y2="435.0" stroke="#222" stroke-width="1.0"/>
<text x="388.6" y="442.4" font-size="8.1" text-anchor="end" fill="#1e1e1e" stroke="#1e1e1e" stroke-width="0.15" transform="rotate(-45 388.6 442.4)">vehicle</text>
<text x="412.2" y="442.4" font-size="8.1" text-anchor="end" fill="#1e1e1e" stroke="#1e1e1e" stroke-width="0.15" transform="rotate(-45 412.2 442.4)">CX-5461</text>
<text x="373.0" y="344.5" font-size="9.9" text-anchor="start" fill="#1e1e1e" stroke="#1e1e1e" stroke-width="0.2" >p53null</text>
<rect x="282.9" y="496.3" width="47.0" height="76.99999999999994" fill="none" stroke="#222" stroke-width="1.1"/>
<line x1="279.9" y1="573.5" x2="282.9" y2="573.5" stroke="#222" stroke-width="1.0"/>
<text x="277.59999999999997" y="576.3" font-size="8.4" text-anchor="end" fill="#1e1e1e" stroke="#1e1e1e" stroke-width="0.2" >0</text>
<line x1="279.9" y1="547.5" x2="282.9" y2="547.5" stroke="#222" stroke-width="1.0"/>
<text x="277.59999999999997" y="550.6333333333333" font-size="8.4" text-anchor="end" fill="#1e1e1e" stroke="#1e1e1e" stroke-width="0.2" >10</text>
<line x1="279.9" y1="521.5" x2="282.9" y2="521.5" stroke="#222" stroke-width="1.0"/>
<text x="277.59999999999997" y="524.9666666666667" font-size="8.4" text-anchor="end" fill="#1e1e1e" stroke="#1e1e1e" stroke-width="0.2" >20</text>
<line x1="279.9" y1="496.5" x2="282.9" y2="496.5" stroke="#222" stroke-width="1.0"/>
<text x="277.59999999999997" y="499.3" font-size="8.4" text-anchor="end" fill="#1e1e1e" stroke="#1e1e1e" stroke-width="0.2" >30</text>
<rect x="287.2" y="516.5" width="15.199999999999989" height="56.799999999999955" fill="#2b4a87" />
<line x1="294.5" y1="507.0" x2="294.5" y2="516.5" stroke="#222" stroke-width="1.0"/>
<line x1="290.29999999999995" y1="507.5" x2="299.29999999999995" y2="507.5" stroke="#222" stroke-width="1.0"/>
<rect x="310.2" y="549.0" width="15.400000000000034" height="24.299999999999955" fill="#b30a2c" />
<line x1="317.5" y1="546.3" x2="317.5" y2="549.0" stroke="#222" stroke-width="1.0"/>
<line x1="313.4" y1="546.5" x2="322.4" y2="546.5" stroke="#222" stroke-width="1.0"/>
<line x1="294.1" y1="504.5" x2="315.4" y2="504.5" stroke="#222" stroke-width="1.0"/>
<circle cx="302.8" cy="499.8" r="1.3" fill="#1e1e1e"/>
<circle cx="306.7" cy="499.8" r="1.3" fill="#1e1e1e"/>
<line x1="294.5" y1="573.3" x2="294.5" y2="576.3" stroke="#222" stroke-width="1.0"/>
<line x1="317.5" y1="573.3" x2="317.5" y2="576.3" stroke="#222" stroke-width="1.0"/>
<text x="298.2" y="583.6" font-size="8.1" text-anchor="end" fill="#1e1e1e" stroke="#1e1e1e" stroke-width="0.15" transform="rotate(-45 298.2 583.6)">vehicle</text>
<text x="320.3" y="583.6" font-size="8.1" text-anchor="end" fill="#1e1e1e" stroke="#1e1e1e" stroke-width="0.15" transform="rotate(-45 320.3 583.6)">CX-5461</text>
<text x="262.0" y="533.9" font-size="9.2" text-anchor="middle" fill="#1e1e1e" stroke="#1e1e1e" stroke-width="0.2" transform="rotate(-90 262.0 533.9)" >% hCD45<tspan font-size="5" dy="-3">+</tspan></text>
<rect x="366.3" y="496.1" width="47.599999999999966" height="77.10000000000002" fill="none" stroke="#222" stroke-width="1.1"/>
<line x1="363.3" y1="573.5" x2="366.3" y2="573.5" stroke="#222" stroke-width="1.0"/>
<text x="361.0" y="576.2" font-size="8.4" text-anchor="end" fill="#1e1e1e" stroke="#1e1e1e" stroke-width="0.2" >0</text>
<line x1="363.3" y1="547.5" x2="366.3" y2="547.5" stroke="#222" stroke-width="1.0"/>
<text x="361.0" y="550.5" font-size="8.4" text-anchor="end" fill="#1e1e1e" stroke="#1e1e1e" stroke-width="0.2" >20</text>
<line x1="363.3" y1="521.5" x2="366.3" y2="521.5" stroke="#222" stroke-width="1.0"/>
<text x="361.0" y="524.8000000000001" font-size="8.4" text-anchor="end" fill="#1e1e1e" stroke="#1e1e1e" stroke-width="0.2" >40</text>
<line x1="363.3" y1="496.5" x2="366.3" y2="496.5" stroke="#222" stroke-width="1.0"/>
<text x="361.0" y="499.1" font-size="8.4" text-anchor="end" fill="#1e1e1e" stroke="#1e1e1e" stroke-width="0.2" >60</text>
<rect x="371.0" y="521.4" width="15.199999999999989" height="51.80000000000007" fill="#2b4a87" />
<line x1="378.5" y1="511.0" x2="378.5" y2="521.4" stroke="#222" stroke-width="1.0"/>
<line x1="374.1" y1="511.5" x2="383.1" y2="511.5" stroke="#222" stroke-width="1.0"/>
<rect x="394.0" y="566.6" width="15.600000000000023" height="6.600000000000023" fill="#b30a2c" />
<line x1="401.5" y1="564.9" x2="401.5" y2="566.6" stroke="#222" stroke-width="1.0"/>
<line x1="397.3" y1="564.5" x2="406.3" y2="564.5" stroke="#222" stroke-width="1.0"/>
<line x1="378.4" y1="504.5" x2="399.2" y2="504.5" stroke="#222" stroke-width="1.0"/>
<circle cx="386.84999999999997" cy="499.8" r="1.3" fill="#1e1e1e"/>
<circle cx="390.74999999999994" cy="499.8" r="1.3" fill="#1e1e1e"/>
<line x1="378.5" y1="573.2" x2="378.5" y2="576.2" stroke="#222" stroke-width="1.0"/>
<line x1="401.5" y1="573.2" x2="401.5" y2="576.2" stroke="#222" stroke-width="1.0"/>
<text x="382.4" y="583.6" font-size="8.1" text-anchor="end" fill="#1e1e1e" stroke="#1e1e1e" stroke-width="0.15" transform="rotate(-45 382.4 583.6)">vehicle</text>
<text x="404.0" y="583.6" font-size="8.1" text-anchor="end" fill="#1e1e1e" stroke="#1e1e1e" stroke-width="0.15" transform="rotate(-45 404.0 583.6)">CX-5461</text>
<text x="345.8" y="532.7" font-size="8.9" text-anchor="middle" fill="#1e1e1e" stroke="#1e1e1e" stroke-width="0.2" transform="rotate(-90 345.8 532.7)" >Number of colonies</text>
<rect x="466.4" y="496.1" width="46.5" height="77.10000000000002" fill="none" stroke="#222" stroke-width="1.1"/>
<line x1="463.4" y1="573.5" x2="466.4" y2="573.5" stroke="#222" stroke-width="1.0"/>
<text x="460.0" y="576.2" font-size="8.4" text-anchor="end" fill="#1e1e1e" stroke="#1e1e1e" stroke-width="0.2" >0</text>
<line x1="463.4" y1="556.5" x2="466.4" y2="556.5" stroke="#222" stroke-width="1.0"/>
<text x="460.0" y="559.3475409836066" font-size="8.4" text-anchor="end" fill="#1e1e1e" stroke="#1e1e1e" stroke-width="0.2" >20</text>
<line x1="463.4" y1="539.5" x2="466.4" y2="539.5" stroke="#222" stroke-width="1.0"/>
<text x="460.0" y="542.4950819672132" font-size="8.4" text-anchor="end" fill="#1e1e1e" stroke="#1e1e1e" stroke-width="0.2" >40</text>
<line x1="463.4" y1="522.5" x2="466.4" y2="522.5" stroke="#222" stroke-width="1.0"/>
<text x="460.0" y="525.6426229508197" font-size="8.4" text-anchor="end" fill="#1e1e1e" stroke="#1e1e1e" stroke-width="0.2" >60</text>
<line x1="463.4" y1="505.5" x2="466.4" y2="505.5" stroke="#222" stroke-width="1.0"/>
<text x="460.0" y="508.79016393442623" font-size="8.4" text-anchor="end" fill="#1e1e1e" stroke="#1e1e1e" stroke-width="0.2" >80</text>
<rect x="470.2" y="521.7" width="15.5" height="51.5" fill="#2b4a87" />
<line x1="477.5" y1="509.6" x2="477.5" y2="521.7" stroke="#222" stroke-width="1.0"/>
<line x1="473.45" y1="509.5" x2="482.45" y2="509.5" stroke="#222" stroke-width="1.0"/>
<rect x="493.5" y="568.0" width="15.600000000000023" height="5.2000000000000455" fill="#b30a2c" />
<line x1="501.5" y1="562.3" x2="501.5" y2="568.0" stroke="#222" stroke-width="1.0"/>
<line x1="496.8" y1="562.5" x2="505.8" y2="562.5" stroke="#222" stroke-width="1.0"/>
<line x1="478.0" y1="504.5" x2="498.7" y2="504.5" stroke="#222" stroke-width="1.0"/>
<circle cx="482.5" cy="499.8" r="1.3" fill="#1e1e1e"/>
<circle cx="486.40000000000003" cy="499.8" r="1.3" fill="#1e1e1e"/>
<circle cx="490.3" cy="499.8" r="1.3" fill="#1e1e1e"/>
<circle cx="494.20000000000005" cy="499.8" r="1.3" fill="#1e1e1e"/>
<line x1="478.5" y1="573.2" x2="478.5" y2="576.2" stroke="#222" stroke-width="1.0"/>
<line x1="501.5" y1="573.2" x2="501.5" y2="576.2" stroke="#222" stroke-width="1.0"/>
<text x="482.0" y="583.6" font-size="8.1" text-anchor="end" fill="#1e1e1e" stroke="#1e1e1e" stroke-width="0.15" transform="rotate(-45 482.0 583.6)">vehicle</text>
<text x="503.3" y="583.6" font-size="8.1" text-anchor="end" fill="#1e1e1e" stroke="#1e1e1e" stroke-width="0.15" transform="rotate(-45 503.3 583.6)">CX-5461</text>
<text x="432.8" y="532.6" font-size="8.8" text-anchor="middle" fill="#1e1e1e" stroke="#1e1e1e" stroke-width="0.2" transform="rotate(-90 432.8 532.6)" >%hCD45<tspan font-size="5" dy="-3">+</tspan><tspan dy="3"> in BM of</tspan></text>
<text x="444.9" y="533.8" font-size="8.9" text-anchor="middle" fill="#1e1e1e" stroke="#1e1e1e" stroke-width="0.2" transform="rotate(-90 444.9 533.8)" >secondary transplant</text>
<line x1="46.5" y1="488.0" x2="46.5" y2="524.8" stroke="#222" stroke-width="1.0"/>
<line x1="43.7" y1="490.5" x2="46.7" y2="490.5" stroke="#222" stroke-width="1.0"/>
<text x="40.9" y="493.2" font-size="8.4" text-anchor="end" fill="#1e1e1e" stroke="#1e1e1e" stroke-width="0.2" >1400</text>
<line x1="43.7" y1="507.5" x2="46.7" y2="507.5" stroke="#222" stroke-width="1.0"/>
<text x="40.9" y="510.4" font-size="8.4" text-anchor="end" fill="#1e1e1e" stroke="#1e1e1e" stroke-width="0.2" >1200</text>
<line x1="43.7" y1="524.5" x2="46.7" y2="524.5" stroke="#222" stroke-width="1.0"/>
<text x="40.9" y="527.8" font-size="8.4" text-anchor="end" fill="#1e1e1e" stroke="#1e1e1e" stroke-width="0.2" >1000</text>
<line x1="46.5" y1="532.1" x2="46.5" y2="566.2" stroke="#222" stroke-width="1.0"/>
<line x1="43.7" y1="532.5" x2="49.5" y2="532.5" stroke="#222" stroke-width="1.0"/>
<line x1="43.7" y1="566.5" x2="49.5" y2="566.5" stroke="#222" stroke-width="1.0"/>
<line x1="46.7" y1="524.5" x2="49.5" y2="524.5" stroke="#222" stroke-width="1.0"/>
<line x1="43.7" y1="542.5" x2="46.7" y2="542.5" stroke="#222" stroke-width="1.0"/>
<text x="40.9" y="545.1" font-size="8.4" text-anchor="end" fill="#1e1e1e" stroke="#1e1e1e" stroke-width="0.2" >400</text>
<line x1="43.7" y1="561.5" x2="46.7" y2="561.5" stroke="#222" stroke-width="1.0"/>
<text x="40.9" y="564.6" font-size="8.4" text-anchor="end" fill="#1e1e1e" stroke="#1e1e1e" stroke-width="0.2" >200</text>
<line x1="46.5" y1="573.2" x2="46.5" y2="607.4" stroke="#222" stroke-width="1.0"/>
<line x1="43.7" y1="573.5" x2="46.7" y2="573.5" stroke="#222" stroke-width="1.0"/>
<text x="40.9" y="576.2" font-size="8.4" text-anchor="end" fill="#1e1e1e" stroke="#1e1e1e" stroke-width="0.2" >10</text>
<line x1="43.7" y1="607.5" x2="46.7" y2="607.5" stroke="#222" stroke-width="1.0"/>
<text x="40.9" y="610.4" font-size="8.4" text-anchor="end" fill="#1e1e1e" stroke="#1e1e1e" stroke-width="0.2" >0</text>
<line x1="46.7" y1="607.5" x2="180.0" y2="607.5" stroke="#222" stroke-width="1.0"/>
<rect x="50.2" y="542.5" width="7.2" height="23.700000000000045" fill="#2b4a87" />
<rect x="50.2" y="573.2" width="7.2" height="34.19999999999993" fill="#2b4a87" />
<rect x="60.9" y="592.2" width="7.2" height="15.199999999999932" fill="#b30a2c" />
<rect x="71.8" y="561.6" width="7.2" height="4.600000000000023" fill="#2b4a87" />
<rect x="71.8" y="573.2" width="7.2" height="34.19999999999993" fill="#2b4a87" />
<rect x="82.3" y="604.3" width="7.2" height="3.1000000000000227" fill="#b30a2c" />
<rect x="93.1" y="561.6" width="7.2" height="4.600000000000023" fill="#2b4a87" />
<rect x="93.1" y="573.2" width="7.2" height="34.19999999999993" fill="#2b4a87" />
<rect x="104.0" y="604.4" width="7.2" height="3.0" fill="#b30a2c" />
<rect x="114.6" y="551.0" width="7.2" height="15.200000000000045" fill="#2b4a87" />
<rect x="114.6" y="573.2" width="7.2" height="34.19999999999993" fill="#2b4a87" />
<rect x="125.6" y="592.5" width="7.2" height="14.899999999999977" fill="#b30a2c" />
<rect x="136.3" y="541.3" width="7.2" height="24.90000000000009" fill="#2b4a87" />
<rect x="136.3" y="573.2" width="7.2" height="34.19999999999993" fill="#2b4a87" />
<rect x="146.9" y="580.4" width="7.2" height="27.0" fill="#b30a2c" />
<rect x="157.9" y="502.0" width="7.2" height="22.600000000000023" fill="#2b4a87" />
<rect x="157.9" y="531.9" width="7.2" height="34.30000000000007" fill="#2b4a87" />
<rect x="157.9" y="573.2" width="7.2" height="34.19999999999993" fill="#2b4a87" />
<line x1="53.5" y1="607.4" x2="53.5" y2="610.4" stroke="#222" stroke-width="1.0"/>
<line x1="64.5" y1="607.4" x2="64.5" y2="610.4" stroke="#222" stroke-width="1.0"/>
<line x1="75.5" y1="607.4" x2="75.5" y2="610.4" stroke="#222" stroke-width="1.0"/>
<line x1="85.5" y1="607.4" x2="85.5" y2="610.4" stroke="#222" stroke-width="1.0"/>
<line x1="96.5" y1="607.4" x2="96.5" y2="610.4" stroke="#222" stroke-width="1.0"/>
<line x1="107.5" y1="607.4" x2="107.5" y2="610.4" stroke="#222" stroke-width="1.0"/>
<line x1="118.5" y1="607.4" x2="118.5" y2="610.4" stroke="#222" stroke-width="1.0"/>
<line x1="129.5" y1="607.4" x2="129.5" y2="610.4" stroke="#222" stroke-width="1.0"/>
<line x1="139.5" y1="607.4" x2="139.5" y2="610.4" stroke="#222" stroke-width="1.0"/>
<line x1="150.5" y1="607.4" x2="150.5" y2="610.4" stroke="#222" stroke-width="1.0"/>
<line x1="161.5" y1="607.4" x2="161.5" y2="610.4" stroke="#222" stroke-width="1.0"/>
<line x1="172.5" y1="607.4" x2="172.5" y2="610.4" stroke="#222" stroke-width="1.0"/>
<line x1="53.3" y1="612.5" x2="106.9" y2="612.5" stroke="#777" stroke-width="1.0"/>
<line x1="119.4" y1="612.5" x2="173.3" y2="612.5" stroke="#777" stroke-width="1.0"/>
<text x="80.2" y="621.8" font-size="8.4" text-anchor="middle" fill="#1e1e1e" stroke="#1e1e1e" stroke-width="0.2" >MLL-AML</text>
<text x="148.3" y="622.0" font-size="8.4" text-anchor="middle" fill="#1e1e1e" stroke="#1e1e1e" stroke-width="0.2" >non-MLL-AML</text>
<text x="16.8" y="548.0" font-size="8.8" text-anchor="middle" fill="#1e1e1e" stroke="#1e1e1e" stroke-width="0.2" transform="rotate(-90 16.8 548.0)" >Number of colonies</text>
<rect x="51.0" y="494.0" width="7.8" height="7.8" fill="#2b4a87" />
<text x="62.1" y="501.2" font-size="8.1" text-anchor="start" fill="#1e1e1e" stroke="#1e1e1e" stroke-width="0.2" >vehicle</text>
<rect x="51.0" y="505.3" width="7.8" height="7.8" fill="#b30a2c" />
<text x="62.1" y="512.5" font-size="8.1" text-anchor="start" fill="#1e1e1e" stroke="#1e1e1e" stroke-width="0.2" >CX-5461</text>
<defs><linearGradient id="pg1" x1="0" y1="0" x2="1" y2="0"><stop offset="0" stop-color="#e4e4e4"/><stop offset="0.12" stop-color="#f4f4f4"/><stop offset="1" stop-color="#f7f7f7"/></linearGradient><filter id="blur1" x="-20%" y="-20%" width="140%" height="140%"><feGaussianBlur stdDeviation="1.0"/></filter></defs>
<rect x="193.1" y="504.6" width="49.4" height="49.4" rx="0.8" fill="url(#pg1)" stroke="#3a3a3a" stroke-width="1.2"/>
<rect x="193.2" y="557.8" width="49.3" height="49.5" rx="0.8" fill="#ebebeb" stroke="#3a3a3a" stroke-width="1.2"/>
<g filter="url(#blur1)"><circle cx="216.3" cy="510.6" r="3.3" fill="#563638"/><circle cx="218.6" cy="514.6" r="3.4" fill="#563638"/><circle cx="220.4" cy="519.0" r="3.0" fill="#563638"/><circle cx="222.0" cy="522.0" r="2.0" fill="#7a4048"/><circle cx="227.6" cy="511.2" r="3.3" fill="#553638"/><circle cx="232.0" cy="511.6" r="2.8" fill="#553638"/><circle cx="231.0" cy="515.6" r="4.6" fill="#553638"/><circle cx="235.0" cy="518.0" r="3.0" fill="#553638"/><circle cx="227.4" cy="518.6" r="3.8" fill="#553638"/><circle cx="233.6" cy="523.0" r="3.6" fill="#7c3e4a"/><circle cx="227.6" cy="524.0" r="2.8" fill="#6a3a40"/><circle cx="224.2" cy="515.4" r="2.6" fill="#553638"/><circle cx="207.7" cy="522.7" r="2.3" fill="#623e42"/><circle cx="211.5" cy="519.8" r="2.3" fill="#623e42"/><circle cx="215.2" cy="522.2" r="2.2" fill="#623e42"/><circle cx="206.3" cy="525.8" r="2.2" fill="#623e42"/><circle cx="210.8" cy="524.6" r="2.4" fill="#5a3a3c"/><circle cx="214.6" cy="526.4" r="2.1" fill="#623e42"/><circle cx="205.6" cy="529.4" r="2.0" fill="#7a5a5e"/><circle cx="211.3" cy="528.6" r="2.2" fill="#623e42"/><circle cx="208.4" cy="531.4" r="1.7" fill="#8a6a6e"/><circle cx="213.8" cy="541.2" r="4.2" fill="#5a3a3c"/><circle cx="210.0" cy="538.0" r="2.6" fill="#5a3a3c"/><circle cx="215.4" cy="537.3" r="2.6" fill="#5a3a3c"/><circle cx="218.4" cy="540.4" r="2.6" fill="#5a3a3c"/><circle cx="217.0" cy="544.8" r="2.4" fill="#5a3a3c"/><circle cx="211.5" cy="545.0" r="2.4" fill="#5a3a3c"/><circle cx="208.5" cy="541.9" r="2.4" fill="#6a4a4c"/></g>
<text x="190.0" y="538.8" font-size="9.4" text-anchor="middle" fill="#1e1e1e" stroke="#1e1e1e" stroke-width="0.2" transform="rotate(-90 190.0 538.8)" >vehicle</text>
<text x="190.0" y="591.5" font-size="8.5" text-anchor="middle" fill="#1e1e1e" stroke="#1e1e1e" stroke-width="0.2" transform="rotate(-90 190.0 591.5)" >CX-5461</text>
<text x="48.4" y="665.3" font-size="8.5" text-anchor="middle" fill="#222" stroke="#222" stroke-width="0.2" >1.0Gy</text>
<text x="48.0" y="675.3" font-size="8.5" text-anchor="middle" fill="#222" stroke="#222" stroke-width="0.2" >radiograph</text>
<text x="123.5" y="654.8" font-size="8.5" text-anchor="middle" fill="#222" stroke="#222" stroke-width="0.2" >1x10<tspan font-size="5" dy="-3.5">6</tspan><tspan dy="3.5"> cells</tspan></text>
<text x="123.2" y="665.0" font-size="8.5" text-anchor="middle" fill="#222" stroke="#222" stroke-width="0.2" >relapsed/refractory,</text>
<text x="122.8" y="674.8" font-size="8.5" text-anchor="middle" fill="#222" stroke="#222" stroke-width="0.2" >NOS, FAB M1</text>
<text x="181.2" y="682.0" font-size="8.5" text-anchor="middle" fill="#222" stroke="#222" stroke-width="0.2" >confirm</text>
<text x="181.8" y="692.2" font-size="8.5" text-anchor="middle" fill="#222" stroke="#222" stroke-width="0.2" >presence of</text>
<text x="182.4" y="701.6" font-size="8.5" text-anchor="middle" fill="#222" stroke="#222" stroke-width="0.2" >hCD45<tspan font-size="5" dy="-3.5">+</tspan><tspan dy="3.5"> cells</tspan></text>
<text x="181.8" y="712.0" font-size="8.5" text-anchor="middle" fill="#222" stroke="#222" stroke-width="0.2" >in pb</text>
<text x="244.6" y="687.4" font-size="8.5" text-anchor="middle" fill="#222" stroke="#222" stroke-width="0.2" >therapy</text>
<text x="244.7" y="697.9" font-size="8.5" text-anchor="middle" fill="#222" stroke="#222" stroke-width="0.2" >vehicle</text>
<text x="244.7" y="707.9" font-size="8.5" text-anchor="middle" fill="#222" stroke="#222" stroke-width="0.2" >CX-5461</text>
<text x="317.3" y="670.4" font-size="8.5" text-anchor="middle" fill="#222" stroke="#222" stroke-width="0.2" >analysis hCD45<tspan font-size="5" dy="-3.5">+</tspan></text>
<text x="317.2" y="680.6" font-size="8.5" text-anchor="middle" fill="#222" stroke="#222" stroke-width="0.2" >cells in the</text>
<text x="317.2" y="690.4" font-size="8.5" text-anchor="middle" fill="#222" stroke="#222" stroke-width="0.2" >bone marrow</text>
<text x="326.4" y="716.4" font-size="8.5" text-anchor="middle" fill="#222" stroke="#222" stroke-width="0.2" >FACS sort</text>
<text x="326.4" y="726.2" font-size="8.5" text-anchor="middle" fill="#222" stroke="#222" stroke-width="0.2" >hCD45<tspan font-size="5" dy="-3.5">+</tspan><tspan dy="3.5"> cells</tspan></text>
<text x="391.3" y="700.8" font-size="8.5" text-anchor="middle" fill="#222" stroke="#222" stroke-width="0.2" >clonogenic</text>
<text x="391.3" y="710.4" font-size="8.5" text-anchor="middle" fill="#222" stroke="#222" stroke-width="0.2" >assay</text>
<text x="391.3" y="721.6" font-size="8.5" text-anchor="middle" fill="#222" stroke="#222" stroke-width="0.2" >secondary</text>
<text x="391.3" y="731.2" font-size="8.5" text-anchor="middle" fill="#222" stroke="#222" stroke-width="0.2" >transplant</text>
<line x1="70.0" y1="692.0" x2="78.38" y2="692.0" stroke="#111" stroke-width="1.1"/>
<path d="M83.5,692.0 L78.38,694.4 L78.38,689.6 Z" fill="#111"/>
<line x1="138.8" y1="692.0" x2="146.38" y2="692.0" stroke="#111" stroke-width="1.1"/>
<path d="M151.5,692.0 L146.38,694.4 L146.38,689.6 Z" fill="#111"/>
<line x1="211.2" y1="692.3" x2="220.38" y2="692.3" stroke="#111" stroke-width="1.1"/>
<path d="M225.5,692.3 L220.38,694.6999999999999 L220.38,689.9 Z" fill="#111"/>
<line x1="267.7" y1="683.7" x2="282.1" y2="676.9" stroke="#111" stroke-width="1.0"/>
<line x1="267.7" y1="697.1" x2="282.1" y2="703.8" stroke="#111" stroke-width="1.0"/>
<line x1="355.0" y1="708.5" x2="361.7992257621045" y2="705.9795973468061" stroke="#111" stroke-width="1.1"/>
<path d="M366.6,704.2 L362.63341201841985,708.2299602708197 L360.9650395057892,703.7292344227926 Z" fill="#111"/>
<line x1="355.0" y1="720.1" x2="361.785838848224" y2="722.5569416519431" stroke="#111" stroke-width="1.1"/>
<path d="M366.6,724.3 L360.96878024757234,724.8135796918382 L362.60289744887564,720.3003036120481 Z" fill="#111"/>
<g><line x1="288" y1="719.5" x2="307.5" y2="701.5" stroke="#d9d7c0" stroke-width="3.6" stroke-linecap="round"/><line x1="288" y1="719.5" x2="307.5" y2="701.5" stroke="#f2f0e2" stroke-width="2.4" stroke-linecap="round"/><circle cx="286.5" cy="720" r="2.2" fill="#ebe9d6"/><circle cx="288.5" cy="721.5" r="2" fill="#e4e2cc"/><circle cx="307.5" cy="700" r="2.2" fill="#ebe9d6"/><circle cx="309.5" cy="701.5" r="2" fill="#e4e2cc"/></g>
<g transform="translate(0,0)" stroke="#262626" stroke-width="0.95" stroke-linejoin="round" stroke-linecap="round"><path d="M31.0,694.2 C28.5,693.6 25.5,693.6 23.2,694.8 C21.2,695.9 20.9,698.0 22.0,700.0 C22.8,701.6 23.2,703.2 22.9,704.6 L22.0,705.8" fill="none" stroke="#2e2e2e" stroke-width="1.9"/><path d="M31.0,694.2 C28.5,693.6 25.5,693.6 23.2,694.8 C21.2,695.9 20.9,698.0 22.0,700.0 C22.8,701.6 23.2,703.2 22.9,704.6" fill="none" stroke="#f2f2f2" stroke-width="0.65"/><path d="M35.4,700.8 L38.6,703.6" stroke="#4a4a4a" stroke-width="2.0"/><path d="M30.5,693.5 C31.5,689 34,686 40.4,684.9 C43.5,684.6 46,685.0 47.6,685.6 C50,684.8 52.5,684.8 54.2,685.4 C57,686.6 59.5,688 61.8,689.4 C60.5,691.2 59,692.3 57.5,692.9 C55.5,693.6 53.8,694.0 52.8,694.8 C52.3,696 51.5,697.5 49.5,698.3 C46,699.4 41,700 37,699.5 C34,699 31.5,697.2 30.8,695.3 Z" fill="white"/><path d="M33.0,696.4 C33.8,698.8 35.0,701.0 37.0,702.6" fill="none"/><path d="M47.6,687.3 C46.9,684.6 48.5,682.4 51.2,682.3 C53.4,682.3 54.5,684.0 54.0,685.7" fill="white"/><path d="M48.7,686.6 C48.5,685.2 49.5,684.1 50.7,684.5" fill="none" stroke-width="0.6"/><path d="M51.4,696.6 L49.4,700.8 L49.8,702.5 L51.6,702.6 L51.2,701.2 L52.6,697.4" fill="white" stroke-width="0.8"/><path d="M53.2,696.4 L55.0,700.4 L54.6,701.9 L56.4,702.0 L56.2,700.6 L54.4,696.0" fill="white" stroke-width="0.8"/></g>
<circle cx="55.4" cy="688.8" r="0.95" fill="#111"/>
<circle cx="61.3" cy="689.5" r="0.85" fill="#111"/>
<g transform="translate(70.5,0)" stroke="#262626" stroke-width="0.95" stroke-linejoin="round" stroke-linecap="round"><path d="M31.0,694.2 C28.5,693.6 25.5,693.6 23.2,694.8 C21.2,695.9 20.9,698.0 22.0,700.0 C22.8,701.6 23.2,703.2 22.9,704.6 L22.0,705.8" fill="none" stroke="#2e2e2e" stroke-width="1.9"/><path d="M31.0,694.2 C28.5,693.6 25.5,693.6 23.2,694.8 C21.2,695.9 20.9,698.0 22.0,700.0 C22.8,701.6 23.2,703.2 22.9,704.6" fill="none" stroke="#f2f2f2" stroke-width="0.65"/><path d="M35.4,700.8 L38.6,703.6" stroke="#4a4a4a" stroke-width="2.0"/><path d="M30.5,693.5 C31.5,689 34,686 40.4,684.9 C43.5,684.6 46,685.0 47.6,685.6 C50,684.8 52.5,684.8 54.2,685.4 C57,686.6 59.5,688 61.8,689.4 C60.5,691.2 59,692.3 57.5,692.9 C55.5,693.6 53.8,694.0 52.8,694.8 C52.3,696 51.5,697.5 49.5,698.3 C46,699.4 41,700 37,699.5 C34,699 31.5,697.2 30.8,695.3 Z" fill="white"/><path d="M33.0,696.4 C33.8,698.8 35.0,701.0 37.0,702.6" fill="none"/><path d="M47.6,687.3 C46.9,684.6 48.5,682.4 51.2,682.3 C53.4,682.3 54.5,684.0 54.0,685.7" fill="white"/><path d="M48.7,686.6 C48.5,685.2 49.5,684.1 50.7,684.5" fill="none" stroke-width="0.6"/><path d="M51.4,696.6 L49.4,700.8 L49.8,702.5 L51.6,702.6 L51.2,701.2 L52.6,697.4" fill="white" stroke-width="0.8"/><path d="M53.2,696.4 L55.0,700.4 L54.6,701.9 L56.4,702.0 L56.2,700.6 L54.4,696.0" fill="white" stroke-width="0.8"/></g>
<circle cx="125.9" cy="688.8" r="0.95" fill="#111"/>
<circle cx="131.8" cy="689.5" r="0.85" fill="#111"/>
<path d="M16.8,671.3 L23.3,671.5 L24.7,676.2 L26.3,676.8 L30.1,687.9 L23.6,679.6 L22.0,679.9 Z" fill="#7d7d7d" stroke="#2a2a2a" stroke-width="0.75" stroke-linejoin="round"/>
<path d="M19.5,672.4 L22.6,678.2" stroke="#b0b0b0" stroke-width="0.8"/>
<g transform="translate(87.6,672.6) rotate(57)" stroke="#3a3a3a" stroke-width="0.75" stroke-linecap="round"><line x1="0" y1="-3.6" x2="0" y2="3.6" stroke-width="1.5"/><line x1="0" y1="0" x2="2.2" y2="0" stroke-width="1.1"/><rect x="2.2" y="-1.5" width="8.8" height="3.0" fill="#d0d0d0"/><line x1="11.0" y1="-3.0" x2="11.0" y2="3.0" stroke-width="1.7"/><line x1="11.0" y1="0" x2="17.6" y2="0" stroke-width="0.75"/></g>
<rect x="0.5" y="0.5" width="519" height="740" fill="none" stroke="#111" stroke-width="1.2"/>
</svg></body></html>
